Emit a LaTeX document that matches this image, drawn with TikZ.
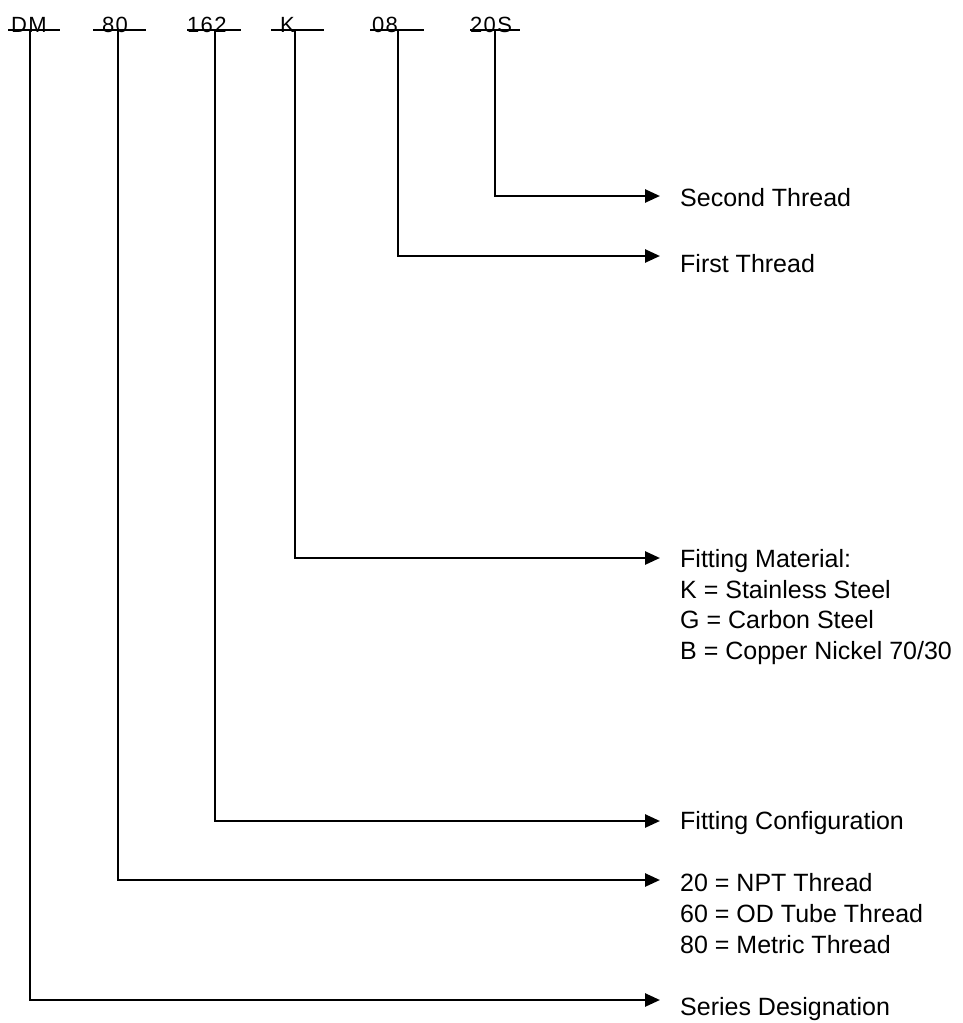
\documentclass[tikz,border=0pt]{standalone}
\usepackage{fontspec}
\setmainfont{Liberation Sans}
\newfontfamily\codefont[LetterSpace=6]{Liberation Sans}
\usetikzlibrary{arrows.meta}
\begin{document}
\begin{tikzpicture}[x=1pt,y=-1pt,
  lbl/.style={font=\fontsize{25}{31}\selectfont, anchor=base west, inner sep=0pt},
  code/.style={font=\codefont\fontsize{22}{22}\selectfont, anchor=base west, inner sep=0pt},
  ul/.style={line width=1.8pt},
  conn/.style={line width=2.6pt, -{Triangle[length=15pt,width=13pt]}}]
\useasboundingbox (0,0) rectangle (962,1023);
% top code labels
\node[code] (dm)  at (11,32)  {DM};
\node[code] (c80) at (102,32) {80};
\node[code] (c162) at (187,32) {162};
\node[code] (ck)  at (280,32) {K};
\node[code] (c08) at (372,32) {08};
\node[code] (c20s) at (470,32) {20S};
% underlines
\draw[ul] (8,30) -- (60,30);
\draw[ul] (93,30) -- (146,30);
\draw[ul] (187,30) -- (241,30);
\draw[ul] (271,30) -- (324,30);
\draw[ul] (370,30) -- (424,30);
\draw[ul] (470,30) -- (520,30);
% connector start points
\coordinate (dmT) at (30,30);
\coordinate (c80T) at (118,30);
\coordinate (c162T) at (215,30);
\coordinate (ckT) at (295,30);
\coordinate (c08T) at (398,30);
\coordinate (c20sT) at (495,30);
% right labels
\node[lbl] (sec) at (680,206) {Second Thread};
\node[lbl] (fir) at (680,272) {First Thread};
\node[lbl] (mat) at (680,567) {Fitting Material:};
\node[lbl] (matK) at (680,598) {K = Stainless Steel};
\node[lbl] (matG) at (680,628) {G = Carbon Steel};
\node[lbl] (matB) at (680,659) {B = Copper Nickel 70/30};
\node[lbl] (cfg) at (680,829) {Fitting Configuration};
\node[lbl] (thr) at (680,891) {20 = NPT Thread};
\node[lbl] (thr6) at (680,922) {60 = OD Tube Thread};
\node[lbl] (thr8) at (680,953) {80 = Metric Thread};
\node[lbl] (ser) at (680,1015) {Series Designation};
% connectors
\draw[conn] (c20sT) |- ([xshift=-20pt,yshift=10pt]sec.base west);
\draw[conn] (c08T) |- ([xshift=-20pt,yshift=16pt]fir.base west);
\draw[conn] (ckT) |- ([xshift=-20pt,yshift=9pt]mat.base west);
\draw[conn] (c162T) |- ([xshift=-20pt,yshift=8pt]cfg.base west);
\draw[conn] (c80T) |- ([xshift=-20pt,yshift=11pt]thr.base west);
\draw[conn] (dmT) |- ([xshift=-20pt,yshift=15pt]ser.base west);
\end{tikzpicture}
\end{document}
